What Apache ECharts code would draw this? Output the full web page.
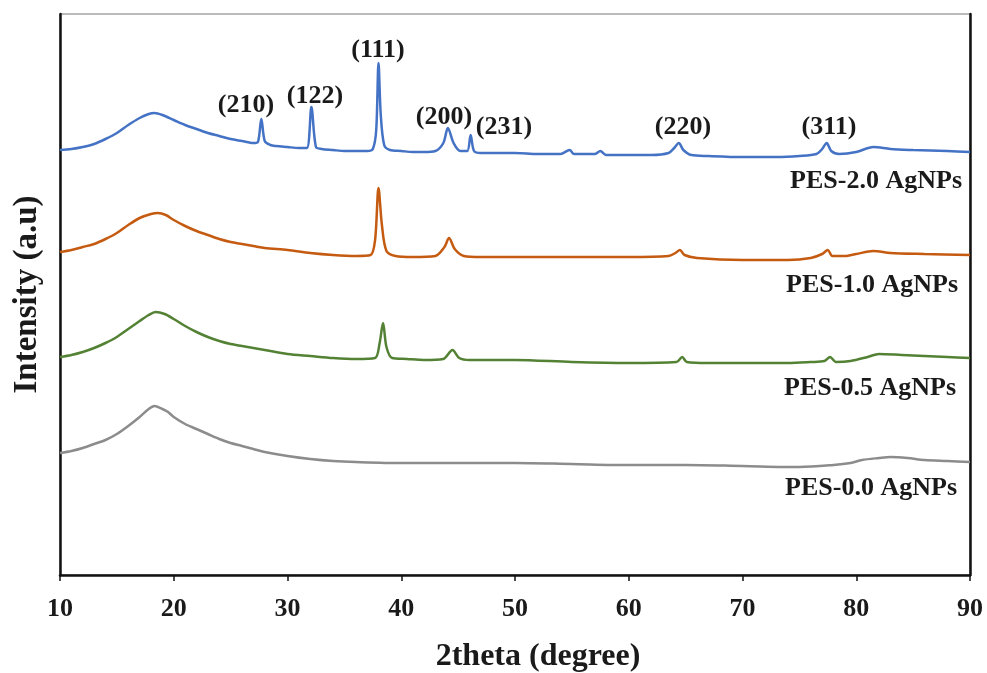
<!DOCTYPE html>
<html>
<head>
<meta charset="utf-8">
<script src="https://cdn.jsdelivr.net/npm/echarts@6/dist/echarts.min.js"></script>
<style>
html,body{margin:0;padding:0;background:#fff;}
#chart{width:987px;height:673px;}
</style>
</head>
<body>
<div id="chart"></div>
<script>
// 2theta positions and intensities (arbitrary units, stacked offsets as in the figure)
var pes20 = [[10,425],[11,426],[12,428],[13,431],[14,436],[15,442],[16,450],[17,457],[17.8,461],[18.3,462],[19,460],[20,455],[21,450],[22,446],[23,442],[24,439],[25,436],[26,434],[27,432],[27.4,433],[27.7,456],[28.0,434],[28.5,430],[29,429],[30,428],[31,427],[31.7,427],[32.1,468],[32.5,428],[33,426],[34,425],[35,424],[36,424],[37,424],[37.5,426],[37.8,445],[38.0,512],[38.2,460],[38.5,430],[39,425],[40,424],[41,423],[42,423],[43,424],[43.7,432],[44.1,447],[44.6,432],[45.2,424],[45.8,424],[46.1,440],[46.4,424],[47,422],[48,422],[50,422],[52,421],[54,421],[54.8,425],[55.2,421],[57,421],[57.5,424],[58,420],[60,420],[62,420],[63.5,422],[64.0,427],[64.4,432],[64.8,425],[65.5,420],[67,419],[70,418],[73,418],[75,419],[76.5,421],[77.0,426],[77.4,432],[77.8,424],[78.5,421],[80,423],[81.5,428],[83,426],[85,425],[88,424],[90,423]];
var pes10 = [[10,323],[11,325],[12,328],[13,331],[14,336],[15,342],[16,350],[17,357],[18,361],[18.6,362],[19.3,360],[20,355],[21,349],[22,344],[23,340],[24,336],[25,333],[26,331],[27,329],[28,327],[30,325],[32,322],[34,320],[36,319],[37.3,320],[37.7,335],[38.0,387],[38.3,350],[38.7,324],[39.5,319],[41,318],[43,319],[43.8,328],[44.2,337],[44.7,326],[45.5,319],[47,318],[50,318],[55,318],[60,318],[63.5,319],[64.1,322],[64.5,325],[64.9,320],[66,317],[70,315],[74,315],[76,317],[77.0,321],[77.5,325],[77.9,319],[79,319],[80,321],[81.5,324],[83,322],[86,321],[90,320]];
var pes05 = [[10,218],[11,220],[12,223],[13,227],[14,232],[15,238],[16,246],[17,254],[17.8,260],[18.4,263],[19.2,261],[20,256],[21,249],[22,243],[23,238],[24,234],[25,231],[26,229],[27,227],[28,225],[30,221],[32,219],[34,217],[36,216],[37.7,217],[38.1,232],[38.4,252],[38.7,228],[39.2,217],[40.5,216],[42,215],[43.7,216],[44.5,225],[45.1,217],[46,215],[50,215],[55,213],[60,212],[64.2,213],[64.7,218],[65.1,213],[67,212],[70,212],[74,212],[76,213],[77.2,214],[77.7,218],[78.2,213],[79.5,214],[81,218],[82,221],[84,220],[86,219],[88,218],[90,217]];
var pes00 = [[10,122],[11,124],[12,127],[13,131],[14,135],[15,141],[16,149],[17,158],[17.8,166],[18.3,169],[19,166],[19.5,163],[20,158],[21,151],[22,146],[23,141],[24,136],[25,132],[26,129],[27,126],[28,123],[30,119],[32,116],[34,114],[36,113],[40,112],[45,112],[50,112],[55,111],[60,110],[65,110],[70,109],[75,108],[78,110],[79.5,112],[80.5,115],[82,117],[83,118],[84.5,117],[86,115],[88,114],[90,113]];
var seriesNames = ['PES-2.0 AgNPs','PES-1.0 AgNPs','PES-0.5 AgNPs','PES-0.0 AgNPs'];
var peakLabels = ['(210)','(122)','(111)','(200)','(231)','(220)','(311)'];
var xTicks = [10,20,30,40,50,60,70,80,90];

var FONT = "'Liberation Serif','Times New Roman',serif";
var chart = echarts.init(document.getElementById('chart'));

function lineSeries(name, data, color){
  return {name:name, type:'line', data:data, showSymbol:false, symbol:'none',
    smooth:0.3, lineStyle:{color:color, width:2.5}, itemStyle:{color:color}, z:3, animation:false};
}
var peakPos = [[246,105],[315,96],[378,50],[444,117],[504,127],[683,127],[829,127]];
var namePos = [[962,181],[958,285],[956,388],[957,488]];
var graphics = [];
peakLabels.forEach(function(t,i){
  graphics.push({type:'text', x:peakPos[i][0], y:peakPos[i][1], style:{text:t, fill:'#1a1a1a', font:'bold 26px '+FONT, textAlign:'center', textVerticalAlign:'middle'}, z:10});
});
seriesNames.forEach(function(t,i){
  graphics.push({type:'text', x:namePos[i][0], y:namePos[i][1], style:{text:t, fill:'#1a1a1a', font:'bold 26px '+FONT, textAlign:'right', textVerticalAlign:'middle'}, z:10});
});

chart.setOption({
  animation:false,
  backgroundColor:'#ffffff',
  grid:{left:60, top:14, right:17, bottom:98, show:true, borderColor:'#777', borderWidth:1,
    containLabel:false, outerBoundsMode:'none'},
  xAxis:{type:'value', min:10, max:90, interval:10,
    name:'2theta (degree)', nameLocation:'middle', nameGap:66,
    nameTextStyle:{fontFamily:FONT, fontWeight:'bold', fontSize:32, color:'#1a1a1a', padding:[0,0,0,46]},
    axisLine:{show:true, onZero:false, lineStyle:{color:'#111', width:2.5}},
    axisTick:{show:true, inside:false, length:6, lineStyle:{color:'#111', width:1.5}},
    axisLabel:{fontFamily:FONT, fontWeight:'bold', fontSize:26, color:'#1a1a1a', margin:21,
      formatter:function(v){return xTicks.indexOf(v)>=0?String(v):'';}},
    splitLine:{show:false}},
  yAxis:[{type:'value', min:0, max:561, position:'left',
    name:'Intensity (a.u)', nameLocation:'middle', nameGap:16,
    nameTextStyle:{fontFamily:FONT, fontWeight:'bold', fontSize:33, color:'#1a1a1a'},
    axisLine:{show:true, lineStyle:{color:'#111', width:2.5}},
    axisTick:{show:false}, axisLabel:{show:false}, splitLine:{show:false}},
   {type:'value', min:0, max:561, position:'right',
    axisLine:{show:true, lineStyle:{color:'#111', width:2.5}},
    axisTick:{show:false}, axisLabel:{show:false}, splitLine:{show:false}}],
  series:[
    lineSeries(seriesNames[0], pes20, '#4472C4'),
    lineSeries(seriesNames[1], pes10, '#C55A11'),
    lineSeries(seriesNames[2], pes05, '#548235'),
    lineSeries(seriesNames[3], pes00, '#8C8C8C')
  ],
  graphic:graphics
});
</script>
</body>
</html>
